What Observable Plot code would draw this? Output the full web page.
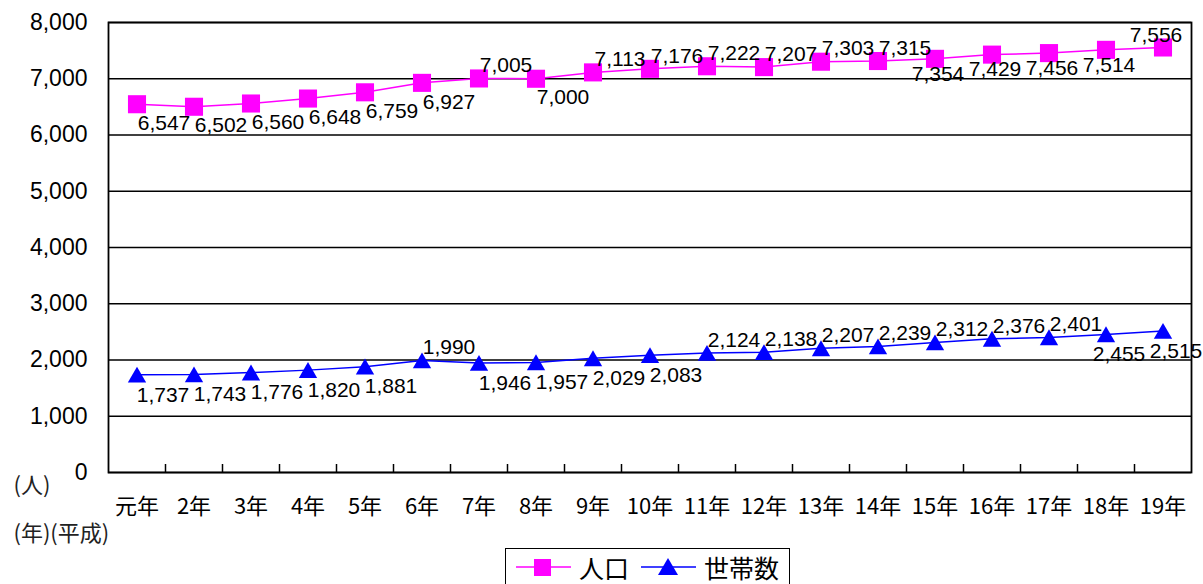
<!DOCTYPE html>
<html><head><meta charset="utf-8">
<script src="https://cdn.jsdelivr.net/npm/d3@7"></script>
<script src="https://cdn.jsdelivr.net/npm/@observablehq/plot@0.6"></script>
<style>
html,body{margin:0;padding:0;background:#fff;}
#wrap{position:relative;width:1203px;height:584px;overflow:hidden;font-family:"Liberation Sans",Arial,sans-serif;}
#legend{position:absolute;left:505px;top:548px;width:285px;height:48px;border:1.5px solid #000;background:#fff;box-sizing:border-box;}
#legend .item{position:absolute;top:2px;height:32px;display:flex;align-items:center;font-family:"Noto Sans CJK JP",sans-serif;font-size:25px;line-height:1;color:#000;}
#legend .item span{line-height:1;display:inline-block;}
#chart svg g[aria-label="year-unit"] text{letter-spacing:1.5px;}
</style></head><body>
<div id="wrap"><div id="chart"></div>
<div id="legend"></div>
</div>
<script>
const years = ["元年","2年","3年","4年","5年","6年","7年","8年","9年","10年","11年","12年","13年","14年","15年","16年","17年","18年","19年"];
const population = [6547,6502,6560,6648,6759,6927,7005,7000,7113,7176,7222,7207,7303,7315,7354,7429,7456,7514,7556];
const households = [1737,1743,1776,1820,1881,1990,1946,1957,2029,2083,2124,2138,2207,2239,2312,2376,2401,2455,2515];
const popLabelSide = ["br","br","br","br","br","br","ar","br","ar","ar","ar","ar","ar","ar","b","b","b","b","a"];
const hhLabelSide = ["br","br","br","br","br","ar","br","br","br","br","ar","ar","ar","ar","ar","ar","ar","b","b"];
const yTicks = [0,1000,2000,3000,4000,5000,6000,7000,8000];
const seriesNames = ["人口","世帯数"];
const seriesColors = ["#ff00ff","#0000ff"];

const W = 1203, H = 545, mT = 22, mB = 73, mL = 108, mR = 12;
const innerH = H - mT - mB;
const fmt = d3.format(",");
const CJK = "Noto Sans CJK JP";
const rows = years.map((y, i) => ({i, x: i + 0.5, year: y, pop: population[i], hh: households[i], ps: popLabelSide[i], hs: hhLabelSide[i]}));

const popOff = {br: [27, 19], ar: [27, -13], b: [3, 15], a: [-7, -12]};
const hhOff = {br: [26, 20], ar: [27, -13], b: [13, 20], a: [0, -13]};
const labelMarks = [];
for (const k of Object.keys(popOff)) {
  labelMarks.push(Plot.text(rows.filter(d => d.ps === k), {x: "x", y: "pop", text: d => fmt(d.pop), dx: popOff[k][0], dy: popOff[k][1], fontSize: 21, fill: "#000"}));
  labelMarks.push(Plot.text(rows.filter(d => d.hs === k), {x: "x", y: "hh", text: d => fmt(d.hh), dx: hhOff[k][0], dy: hhOff[k][1], fontSize: 21, fill: "#000"}));
}

const chart = Plot.plot({
  width: W, height: H,
  marginTop: mT, marginBottom: mB, marginLeft: mL, marginRight: mR,
  style: {fontFamily: '"Liberation Sans", Arial, sans-serif', background: "#fff", color: "#000", overflow: "visible"},
  x: {type: "linear", domain: [0, years.length], axis: null},
  y: {type: "linear", domain: [0, 8000], axis: null},
  marks: [
    Plot.gridY(yTicks, {stroke: "#000", strokeOpacity: 1, strokeWidth: 1.3}),
    Plot.ruleX(d3.range(1, years.length), {x: d => d, insetTop: innerH - 8, stroke: "#000", strokeWidth: 1.5}),
    Plot.frame({stroke: "#000", strokeWidth: 1.8}),
    Plot.axisY(yTicks, {anchor: "left", tickSize: 0, tickPadding: 21, fontSize: 23, tickFormat: fmt, label: null}),
    Plot.axisX(rows.map(d => d.x), {anchor: "bottom", tickSize: 0, tickPadding: 26, fontSize: 22, fontFamily: CJK, stroke: "#000", strokeWidth: 0.35, tickFormat: d => years[Math.floor(d)], label: null}),
    Plot.line(rows, {x: "x", y: "pop", stroke: seriesColors[0], strokeWidth: 1.5}),
    Plot.line(rows, {x: "x", y: "hh", stroke: seriesColors[1], strokeWidth: 1.5}),
    Plot.dot(rows, {x: "x", y: "pop", symbol: "square", r: 10.2, fill: seriesColors[0], stroke: "none"}),
    Plot.dot(rows, {x: "x", y: "hh", symbol: "triangle", r: 6.8, dy: 2.5, fill: seriesColors[1], stroke: "none"}),
    ...labelMarks,
    Plot.text(["(人)"], {frameAnchor: "bottom-left", text: d => d, textAnchor: "start", lineAnchor: "middle", dx: -95, dy: 13, fontSize: 22, fontFamily: CJK, fill: "#222"}),
    Plot.text(["(年)(平成)"], {frameAnchor: "bottom-left", text: d => d, textAnchor: "start", lineAnchor: "middle", dx: -95, dy: 61, fontSize: 22, fontFamily: CJK, fill: "#222", ariaLabel: "year-unit"})
  ]
});
document.getElementById("chart").appendChild(chart);

// legend
const lg = document.getElementById("legend");
const sw = [
  {left: 8, name: seriesNames[0], color: seriesColors[0], shape: "square"},
  {left: 133, name: seriesNames[1], color: seriesColors[1], shape: "triangle"}
];
sw.forEach(s => {
  const div = document.createElement("div");
  div.className = "item";
  div.style.left = s.left + "px";
  const marker = s.shape === "square"
    ? `<rect x="20" y="8" width="17" height="17" fill="${s.color}"/>`
    : `<path d="M29,7 L39,24 L19,24 Z" fill="${s.color}"/>`;
  div.innerHTML = `<svg width="58" height="32" style="margin-right:7px"><line x1="2" x2="57" y1="16" y2="16" stroke="${s.color}" stroke-width="1.5"/>${marker}</svg><span>${s.name}</span>`;
  lg.appendChild(div);
});
</script>
</body></html>
